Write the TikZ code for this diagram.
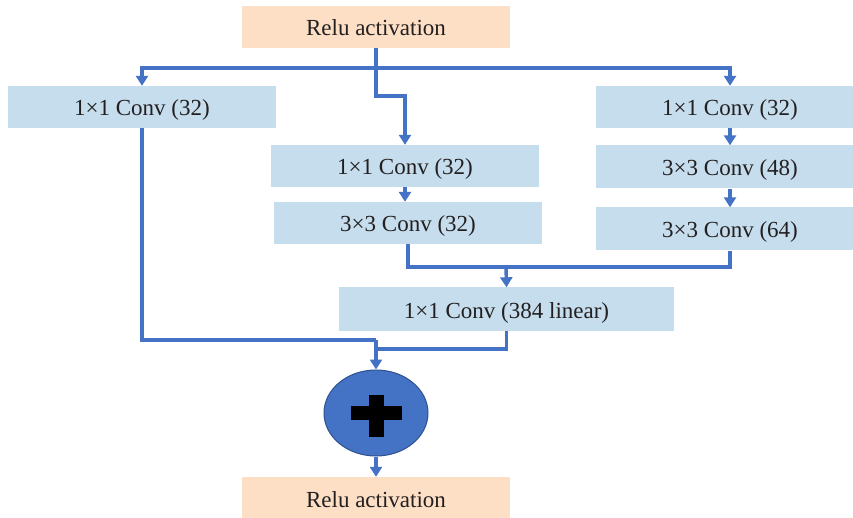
\documentclass[tikz,border=0pt]{standalone}
\usepackage{fontspec}
\setmainfont{Liberation Serif}
\usetikzlibrary{arrows.meta,shapes.geometric,calc}
\definecolor{convfill}{RGB}{197,221,237}
\definecolor{relufill}{RGB}{252,223,197}
\definecolor{linkblue}{RGB}{68,114,196}
\definecolor{rimblue}{RGB}{47,82,143}
\definecolor{txt}{RGB}{35,31,32}
\tikzset{
  blk/.style={rectangle, inner sep=0pt, minimum width=268pt, minimum height=42pt,
    text=txt, font=\fontsize{23}{26}\selectfont, text height=18pt, text depth=0pt},
  convbox/.style={blk, fill=convfill},
  relubox/.style={blk, fill=relufill},
  link/.style={draw=linkblue, line width=3.4pt},
  arr/.style={link, -{Triangle[width=12pt,length=10pt]}},
}
\begin{document}
\begin{tikzpicture}[x=1pt,y=-1pt]
\clip (0,0) rectangle (853,518);
\fill[white] (0,0) rectangle (853,518);

% blocks
\node[relubox] (top) at (376,27) {Relu activation};
\node[convbox] (left) at (142,107) {1×1 Conv (32)};
\node[convbox] (m1) at (405,166) {1×1 Conv (32)};
\node[convbox] (m2) at (408,223) {3×3 Conv (32)};
\node[convbox] (r1) at (730,107) {1×1 Conv (32)};
\node[convbox, minimum height=43pt] (r2) at (730,167) {3×3 Conv (48)};
\node[convbox, minimum height=43pt] (r3) at (730,229) {3×3 Conv (64)};
\node[convbox, minimum width=335pt, minimum height=43pt] (lin) at (506.5,309) {1×1 Conv (384 linear)};
\node[ellipse, inner sep=0pt, minimum width=104pt, minimum height=86pt,
  fill=linkblue, draw=rimblue, line width=1pt] (plus) at (376,413) {};
\node[relubox] (bot) at (376,498) {Relu activation};

% plus sign
\fill[black] ($(plus.center)+(-25.5,-7)$) rectangle ($(plus.center)+(25.5,7)$);
\fill[black] ($(plus.center)+(-7.5,-18)$) rectangle ($(plus.center)+(7.5,24)$);

% junction points
\coordinate (split) at (376,68);
\coordinate (merge) at (506,267);
\coordinate (sumA) at (376,340);
\coordinate (sumB) at (376,349);

% branching from the input
\draw[link] (top.south) -- (split);
\draw[arr] (split) -| (left.north);
\draw[arr] (split) -| (r1.north);
\draw[arr] (split) -- ++(0,28) -| (m1.north);

% branch internals
\draw[arr] (m1.south) -- (m1.south |- m2.north);
\draw[arr] (r1.south) -- (r2.north);
\draw[arr] (r2.south) -- (r3.north);

% concatenation into the linear conv
\draw[link] (m2.south) |- (merge);
\draw[link] (r3.south) |- (merge);
\draw[arr] (merge) -- (lin.north);

% residual sum
\draw[link] (left.south) |- (sumA);
\draw[link] (lin.south) |- (sumB);
\draw[arr] (sumA) -- (plus.north);
\draw[arr] (plus.south) -- (bot.north);
\end{tikzpicture}
\end{document}
